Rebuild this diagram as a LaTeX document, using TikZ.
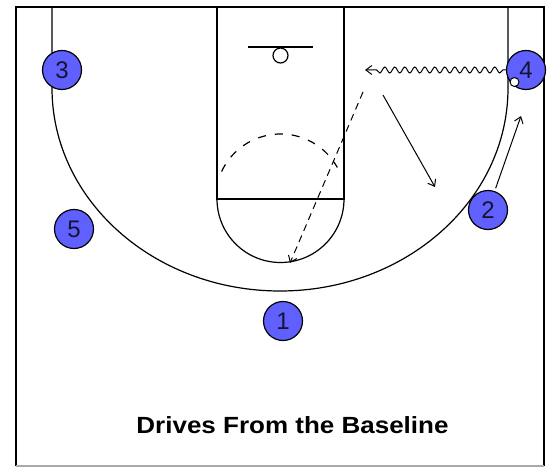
\documentclass[tikz,border=0pt]{standalone}
\usepackage{fontspec}
\setmainfont{Liberation Sans}
\usetikzlibrary{arrows.meta,decorations.pathmorphing}
\definecolor{playerblue}{RGB}{96,96,255}
\definecolor{framegray}{RGB}{170,170,170}
\definecolor{digitink}{RGB}{20,20,50}
\begin{document}
\begin{tikzpicture}[x=1pt,y=-1pt,
  court/.style={line width=1.2pt, draw=black},
  player/.style={circle, draw=black, line width=1.2pt, fill=playerblue,
    minimum size=39pt, inner sep=0pt, text=digitink,
    font=\fontsize{24}{24}\selectfont},
  ball/.style={circle, draw=black, line width=1pt, fill=white,
    minimum size=9pt, inner sep=0pt},
  move/.style={line width=1pt, -{Straight Barb[length=6pt,width=9pt]}},
  passline/.style={move, dash pattern=on 7pt off 5pt},
  dribble/.style={move, decorate, decoration={snake, amplitude=3pt,
    segment length=10pt, pre length=3pt, post length=8pt}}
]
\useasboundingbox (0,0) rectangle (548,468);

% outer frame
\draw[line width=2pt] (16,466) -- (16,7) -- (544,7) -- (544,466);
\draw[line width=1.5pt, framegray] (16,466) -- (544,466);

% three-point line
\draw[court] (52,7) -- (52,88)
  arc[start angle=180, end angle=0, x radius=228, y radius=203] -- (508,7);

% lane, free-throw circle, backboard and rim
\draw[court] (217,7) -- (217,199) -- (344,199) -- (344,7);
\draw[court] (217,199) arc[start angle=180, end angle=0, radius=63.5];
\draw[court, dash pattern=on 8pt off 9pt] (280.5,199) ++(205:65)
  arc[start angle=205, end angle=331, radius=65];
\draw[court] (248,47) -- (313,47);
\draw[court] (280.5,55.5) circle[radius=7.5];

% players and ball
\node[player] (p3) at (62,70) {3};
\node[player] (p4) at (526,70) {4};
\node[player] (p5) at (74,229) {5};
\node[player] (p2) at (488,210) {2};
\node[player] (p1) at (283,321) {1};
\node[ball] (ball) at (514.5,82) {};

% movement end points
\coordinate (dribEnd) at (365,70);
\coordinate (passStart) at (363,92);
\coordinate (passEnd) at (290,263);
\coordinate (cutStart) at (383,95);
\coordinate (cutEnd) at (435,187);
\coordinate (popEnd) at (521,116);

% dribble, pass and cuts
\draw[dribble] (p4.west) -- (dribEnd);
\draw[passline] (passStart) -- (passEnd);
\draw[move] (cutStart) -- (cutEnd);
\draw[move, shorten <=3pt] (p2) -- (popEnd);

% caption
\node[anchor=base, inner sep=0pt, font=\bfseries\fontsize{26}{26}\selectfont]
  (title) at (292.5,433) {\scalebox{1}[0.9]{Drives From the Baseline}};
\end{tikzpicture}
\end{document}
